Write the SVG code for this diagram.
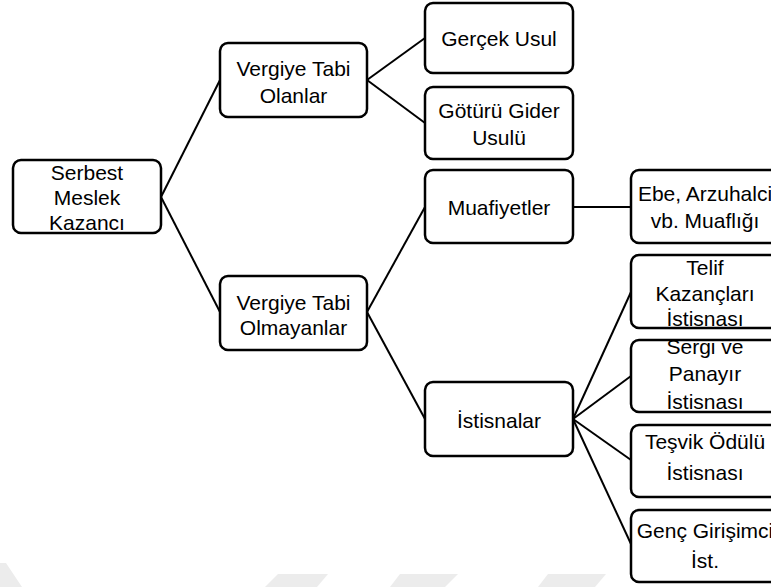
<svg xmlns="http://www.w3.org/2000/svg" width="771" height="587" viewBox="0 0 771 587">
<style>
.box{fill:#fff;stroke:#000;stroke-width:2.5}
.lbl{font-family:"Liberation Sans",Arial,sans-serif;font-size:21px;fill:#000;text-anchor:middle;dominant-baseline:central}
.conn line{stroke:#000;stroke-width:2}
.wm{fill:#ececec}
</style>
<rect width="771" height="587" fill="#fff"/>
<g id="watermark">
<polygon class="wm" points="0,563 6,563 22,587 0,587"/>
<polygon class="wm" points="278,574 328,574 317,587 265,587"/>
<polygon class="wm" points="400,574 458,574 445,587 390,587"/>
<polygon class="wm" points="548,574 606,574 595,587 538,587"/>
</g>
<g id="connectors" class="conn">
<line x1="161" y1="197" x2="220" y2="80"/>
<line x1="161" y1="197" x2="220" y2="312"/>
<line x1="367" y1="80" x2="425" y2="38"/>
<line x1="367" y1="80" x2="425" y2="123"/>
<line x1="367" y1="312" x2="425" y2="207"/>
<line x1="367" y1="312" x2="425" y2="419"/>
<line x1="573" y1="207" x2="631" y2="207"/>
<line x1="573" y1="419" x2="631" y2="292"/>
<line x1="573" y1="419" x2="631" y2="376"/>
<line x1="573" y1="419" x2="631" y2="460"/>
<line x1="573" y1="419" x2="631" y2="544"/>
</g>
<g id="serbest">
<rect class="box" x="13" y="160" width="148" height="73" rx="8"/>
<text class="lbl" x="87" y="172">Serbest</text>
<text class="lbl" x="87" y="197">Meslek</text>
<text class="lbl" x="87" y="222">Kazancı</text>
</g>
<g id="tabi-olanlar">
<rect class="box" x="220" y="43" width="147" height="74" rx="8"/>
<text class="lbl" x="293.5" y="68">Vergiye Tabi</text>
<text class="lbl" x="293.5" y="95">Olanlar</text>
</g>
<g id="tabi-olmayanlar">
<rect class="box" x="220" y="276" width="147" height="74" rx="8"/>
<text class="lbl" x="293.5" y="302">Vergiye Tabi</text>
<text class="lbl" x="293.5" y="327">Olmayanlar</text>
</g>
<g id="gercek-usul">
<rect class="box" x="425" y="3" width="148" height="70" rx="8"/>
<text class="lbl" x="499" y="38">Gerçek Usul</text>
</g>
<g id="goturu-gider">
<rect class="box" x="425" y="87" width="148" height="72" rx="8"/>
<text class="lbl" x="499" y="110">Götürü Gider</text>
<text class="lbl" x="499" y="137">Usulü</text>
</g>
<g id="muafiyetler">
<rect class="box" x="425" y="170" width="148" height="73" rx="8"/>
<text class="lbl" x="499" y="207">Muafiyetler</text>
</g>
<g id="istisnalar">
<rect class="box" x="425" y="382" width="148" height="74" rx="8"/>
<text class="lbl" x="499" y="420">İstisnalar</text>
</g>
<g id="ebe-arzuhalci">
<rect class="box" x="631" y="170" width="150" height="73" rx="8"/>
<text class="lbl" x="705" y="193">Ebe, Arzuhalci</text>
<text class="lbl" x="705" y="220">vb. Muaflığı</text>
</g>
<g id="telif">
<rect class="box" x="631" y="255" width="150" height="73" rx="8"/>
<text class="lbl" x="705" y="267">Telif</text>
<text class="lbl" x="705" y="293">Kazançları</text>
<text class="lbl" x="705" y="318">İstisnası</text>
</g>
<g id="sergi-panayir">
<rect class="box" x="631" y="340" width="150" height="72" rx="8"/>
<text class="lbl" x="705" y="346">Sergi ve</text>
<text class="lbl" x="705" y="373">Panayır</text>
<text class="lbl" x="705" y="401">İstisnası</text>
</g>
<g id="tesvik-odulu">
<rect class="box" x="631" y="425" width="150" height="72" rx="8"/>
<text class="lbl" x="705" y="441">Teşvik Ödülü</text>
<text class="lbl" x="705" y="472">İstisnası</text>
</g>
<g id="genc-girisimci">
<rect class="box" x="631" y="510" width="150" height="72" rx="8"/>
<text class="lbl" x="705" y="530">Genç Girişimci</text>
<text class="lbl" x="705" y="560">İst.</text>
</g>
</svg>
